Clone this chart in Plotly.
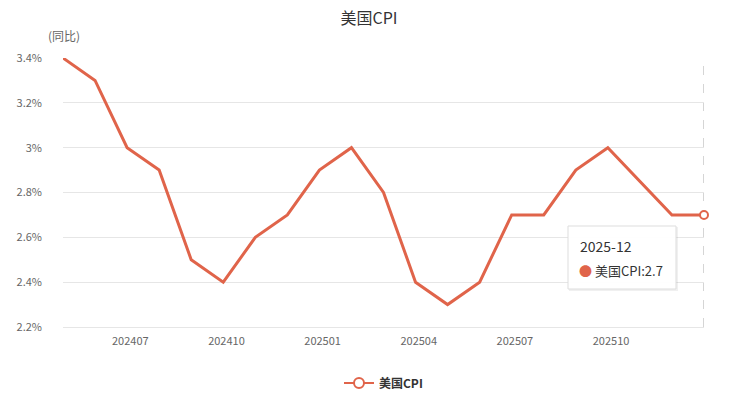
import plotly.graph_objects as go

months = ["2024-04", "2024-05", "2024-06", "2024-07", "2024-08", "2024-09", "2024-10",
          "2024-11", "2024-12", "2025-01", "2025-02", "2025-03", "2025-04", "2025-05",
          "2025-06", "2025-07", "2025-08", "2025-09", "2025-10", "2025-11", "2025-12"]
cpi = [3.4, 3.3, 3.0, 2.9, 2.5, 2.4, 2.6, 2.7, 2.9, 3.0, 2.8, 2.4, 2.3, 2.4,
       2.7, 2.7, 2.9, 3.0, None, 2.7, 2.7]
tick_labels = ["202407", "202410", "202501", "202504", "202507", "202510"]
y_ticks = [2.2, 2.4, 2.6, 2.8, 3.0, 3.2, 3.4]
y_tick_text = ["2.2%", "2.4%", "2.6%", "2.8%", "3%", "3.2%", "3.4%"]

COLOR = "#e0644a"
FONT = "Noto Sans CJK SC, Microsoft YaHei, sans-serif"

# page body has an 8px margin; figure sized to fit the window
OFF = 8
W, H = 730 - OFF, 400 - OFF
PL, PR, PT, PB = 63, 704, 58, 327  # plot area in window pixels
PW, PH = PR - PL, PB - PT


def px(xw):
    return (xw - PL) / PW


def py(yw):
    return (PB - yw) / PH


def cy(yw):
    # container y (0 bottom, 1 top) for a window pixel y
    return (400 - yw) / H


x = list(range(len(months)))
# tick label positions follow the reference (offset slightly before each quarter's point)
tick_pos = [months.index(l[:4] + "-" + l[4:]) - 0.9 for l in tick_labels]

fig = go.Figure()
fig.add_trace(go.Scatter(
    x=x, y=cpi, mode="lines", connectgaps=True,
    line=dict(color=COLOR, width=3), showlegend=False, hoverinfo="skip"))
# hovered last point
fig.add_trace(go.Scatter(
    x=[x[-1]], y=[cpi[-1]], mode="markers", showlegend=False, cliponaxis=False,
    marker=dict(symbol="circle", size=8, color="white", line=dict(color=COLOR, width=2)),
    hoverinfo="skip"))
# legend entry
fig.add_trace(go.Scatter(
    x=[None], y=[None], mode="lines+markers", name="<b>美国CPI</b>",
    line=dict(color=COLOR, width=2),
    marker=dict(symbol="circle", size=10, color="white", line=dict(color=COLOR, width=2))))

# axis pointer
fig.add_shape(type="line", xref="x", yref="paper", x0=x[-1], x1=x[-1], y0=0, y1=1,
              line=dict(color="#aaaaaa", width=1, dash="dash"), layer="below")

# tooltip shadow + box
fig.add_shape(type="rect", xref="paper", yref="paper",
              x0=px(569), x1=px(678), y0=py(291), y1=py(227),
              fillcolor="rgba(0,0,0,0.06)", line=dict(width=0))
fig.add_shape(type="rect", xref="paper", yref="paper",
              x0=px(568), x1=px(676), y0=py(289), y1=py(226),
              fillcolor="rgba(255,255,255,0.97)", line=dict(color="#dddddd", width=1))
fig.add_annotation(xref="paper", yref="paper", x=px(578), y=py(246),
                   text=months[-1], showarrow=False, xanchor="left", yanchor="middle",
                   font=dict(family=FONT, size=14, color="#333333"))
fig.add_annotation(xref="paper", yref="paper", x=px(577), y=py(270),
                   text=f"<span style='color:{COLOR}'>●</span> 美国CPI:{cpi[-1]}",
                   showarrow=False, xanchor="left", yanchor="middle",
                   font=dict(family=FONT, size=13, color="#333333"))

# y-axis name
fig.add_annotation(xref="paper", yref="paper", x=px(64), y=py(36),
                   text="(同比)", showarrow=False, xanchor="center", yanchor="middle",
                   font=dict(family=FONT, size=12, color="#666666"))

fig.update_layout(
    width=W, height=H,
    margin=dict(l=PL - OFF, r=730 - PR, t=PT - OFF, b=400 - PB, autoexpand=False),
    paper_bgcolor="white", plot_bgcolor="white",
    font=dict(family=FONT, size=12, color="#666666"),
    title=dict(text="美国CPI", x=0.5, xanchor="center", yref="container",
               y=cy(18), yanchor="middle",
               font=dict(family=FONT, size=16, color="#333333")),
    xaxis=dict(range=[0, len(months) - 1], tickvals=tick_pos, ticktext=tick_labels,
               showgrid=False, zeroline=False, showline=True, linecolor="#e6e6e6",
               ticks="", tickfont=dict(size=11, color="#666666"), ticklabelstandoff=4,
               automargin=False),
    yaxis=dict(range=[2.2, 3.4], tickvals=y_ticks, ticktext=y_tick_text,
               showgrid=True, gridcolor="#e6e6e6", zeroline=False, showline=False,
               ticks="", tickfont=dict(size=11, color="#666666"), ticklabelstandoff=20,
               automargin=False),
    legend=dict(orientation="h", x=0.5, xanchor="center", yref="container", y=cy(383),
                yanchor="middle", font=dict(family=FONT, size=12, color="#333333")),
    hovermode=False,
)

fig.write_html("out.html")
